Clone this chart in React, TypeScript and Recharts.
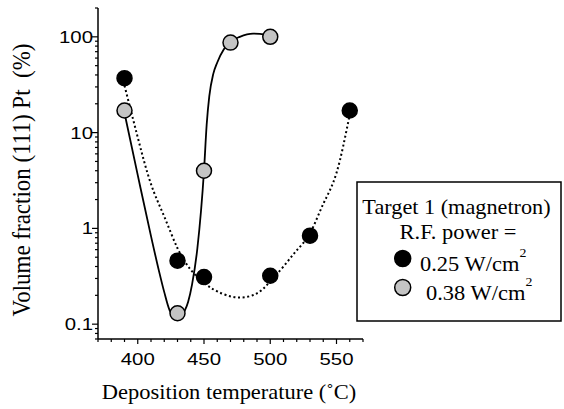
import { ComposedChart, Line, Scatter, XAxis, YAxis } from "recharts";

// axis ticks
const xTicks = [370, 380, 390, 400, 410, 420, 430, 440, 450, 460, 470, 480, 490, 500, 510, 520, 530, 540, 550, 560, 570];
const xLabels = [400, 450, 500, 550];
const yTicks = [
  0.07, 0.08, 0.09, 0.1, 0.2, 0.3, 0.4, 0.5, 0.6, 0.7, 0.8, 0.9, 1, 2, 3, 4, 5, 6, 7, 8, 9, 10,
  20, 30, 40, 50, 60, 70, 80, 90, 100, 200,
];
const yLabels = [0.1, 1, 10, 100];

// measured points, 0.25 W/cm2 (black)
const lowTemps = [390, 430, 450, 500, 530, 560];
const lowValues = [37, 0.46, 0.31, 0.32, 0.84, 17];

// measured points, 0.38 W/cm2 (grey)
const highTemps = [390, 430, 450, 470, 500];
const highValues = [17, 0.13, 4, 87, 100];

// fitted curves
const lowFitTemps = [390, 400, 410, 420, 430, 440, 450, 460, 475, 490, 500, 510, 520, 530, 540, 550, 560];
const lowFitValues = [31, 8.9, 2.9, 1.33, 0.62, 0.37, 0.27, 0.22, 0.19, 0.21, 0.28, 0.4, 0.59, 0.89, 1.8, 3.8, 15.5];
const highFitTemps = [390, 400, 410, 416, 420, 424, 426.5, 429.5, 432.5, 435, 438, 441, 445, 450, 452, 454, 457, 460, 465, 470, 477, 487, 498];
const highFitValues = [16, 3.6, 0.83, 0.36, 0.216, 0.14, 0.122, 0.112, 0.116, 0.134, 0.17, 0.26, 0.62, 4, 12, 24, 41, 54, 74, 89, 100, 108, 105];

const zip = (xs: number[], ys: number[]) => xs.map((x, i) => ({ x, y: ys[i] }));

const lowPoints = zip(lowTemps, lowValues);
const highPoints = zip(highTemps, highValues);
const lowFit = zip(lowFitTemps, lowFitValues);
const highFit = zip(highFitTemps, highFitValues);

const SANS = "'Liberation Sans', Arial, sans-serif";
const SERIF = "'Liberation Serif', 'Times New Roman', serif";
const GREY = "#c4c4c4";

function XTick({ x, y, payload }: any) {
  const major = xLabels.includes(payload.value);
  return (
    <g>
      <line x1={x} x2={x} y1={y} y2={y + (major ? 5 : 3)} stroke="#000" strokeWidth={1.2} />
      {major && (
        <text transform={`translate(${x} ${y + 26}) scale(1.2 1)`} textAnchor="middle" fontFamily={SANS} fontSize={17} fill="#000">
          {payload.value}
        </text>
      )}
    </g>
  );
}

function YTick({ x, y, payload }: any) {
  const major = yLabels.includes(payload.value);
  return (
    <g>
      <line x1={x} x2={x - (major ? 6 : 3)} y1={y} y2={y} stroke="#000" strokeWidth={1.2} />
      {major && (
        <text transform={`translate(${x - 5} ${y + 6}) scale(1.2 1)`} textAnchor="end" fontFamily={SANS} fontSize={17} fill="#000">
          {payload.value}
        </text>
      )}
    </g>
  );
}

const dot = (fill: string) => (props: any) => (
  <circle cx={props.cx} cy={props.cy} r={7.5} fill={fill} stroke="#000" strokeWidth={1.5} />
);

export default function App() {
  return (
    <div style={{ position: "absolute", left: 0, top: 0, width: 564, height: 409, background: "#fff" }}>
      <ComposedChart width={564} height={409} margin={{ top: 8, right: 201, bottom: 0, left: 0 }}>
        <XAxis
          type="number"
          dataKey="x"
          domain={[370, 570]}
          ticks={xTicks}
          interval={0}
          allowDataOverflow
          height={70}
          tickSize={0}
          tickMargin={0}
          tickLine={false}
          axisLine={{ stroke: "#000", strokeWidth: 1.5 }}
          tick={<XTick />}
        />
        <YAxis
          type="number"
          scale="log"
          domain={[0.07, 200]}
          ticks={yTicks}
          interval={0}
          allowDataOverflow
          width={98}
          tickSize={0}
          tickMargin={0}
          tickLine={false}
          axisLine={{ stroke: "#000", strokeWidth: 1.5 }}
          tick={<YTick />}
        />
        <Line
          data={lowFit}
          dataKey="y"
          type="natural"
          stroke="#000"
          strokeWidth={2}
          strokeDasharray="2 2.6"
          dot={false}
          activeDot={false}
          isAnimationActive={false}
        />
        <Line
          data={highFit}
          dataKey="y"
          type="monotone"
          stroke="#000"
          strokeWidth={1.8}
          dot={false}
          activeDot={false}
          isAnimationActive={false}
        />
        <Scatter data={lowPoints} dataKey="y" shape={dot("#000")} isAnimationActive={false} />
        <Scatter data={highPoints} dataKey="y" shape={dot(GREY)} isAnimationActive={false} />
      </ComposedChart>

      <svg width={564} height={409} style={{ position: "absolute", left: 0, top: 0, pointerEvents: "none" }}>
        <text transform="translate(30 180) rotate(-90) scale(1 1.1)" textAnchor="middle" fontFamily={SERIF} fontSize={23} fill="#000">
          Volume fraction (111) Pt {"\u00a0"}(%)
        </text>
        <text transform="translate(229 399) scale(1.07 1)" textAnchor="middle" fontFamily={SERIF} fontSize={21} fill="#000">
          Deposition temperature (˚C)
        </text>

        <rect x={357} y={182} width={204} height={139} fill="#fff" stroke="#000" strokeWidth={1.5} />
        <text transform="translate(456.5 214) scale(1.06 1)" textAnchor="middle" fontFamily={SERIF} fontSize={21} fill="#000">
          Target 1 (magnetron)
        </text>
        <text transform="translate(458 238.5) scale(1.07 1)" textAnchor="middle" fontFamily={SERIF} fontSize={21} fill="#000">
          R.F. power =
        </text>
        <circle cx={402.7} cy={258.5} r={8} fill="#000" stroke="#000" strokeWidth={1.5} />
        <text transform="translate(420 270.7) scale(1.07 1)" fontFamily={SERIF} fontSize={21} fill="#000">
          0.25 W/cm
          <tspan dy={-14} fontSize={13}>2</tspan>
        </text>
        <circle cx={402.7} cy={287.5} r={8} fill={GREY} stroke="#000" strokeWidth={1.5} />
        <text transform="translate(426 300) scale(1.07 1)" fontFamily={SERIF} fontSize={21} fill="#000">
          0.38 W/cm
          <tspan dy={-14} fontSize={13}>2</tspan>
        </text>
      </svg>
    </div>
  );
}
